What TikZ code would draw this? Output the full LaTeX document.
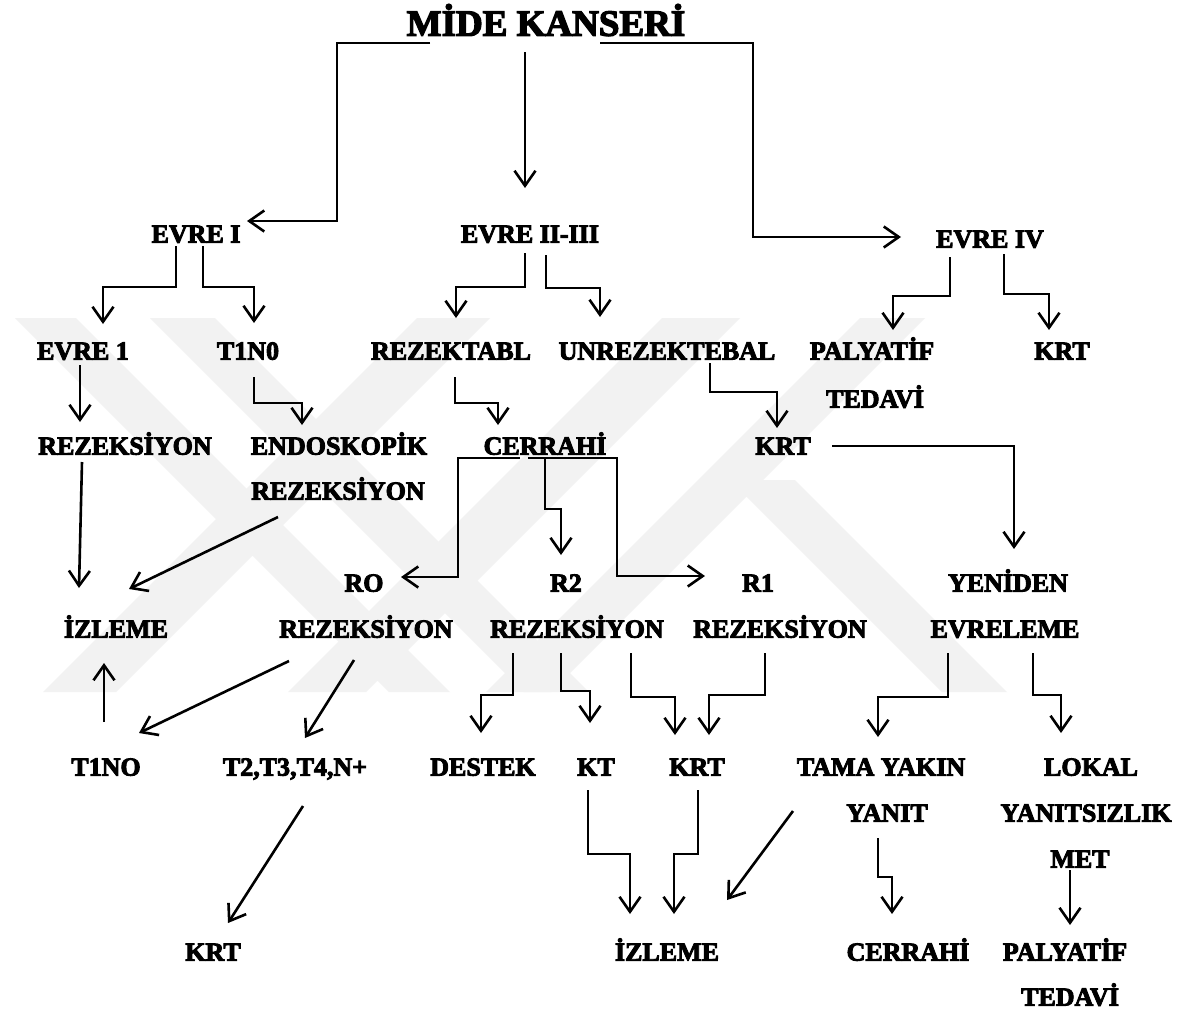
\documentclass[tikz,border=0pt]{standalone}
\usepackage{fontspec}
\setmainfont{Liberation Serif}[BoldFeatures={FakeBold=3.5}]
\usetikzlibrary{arrows.meta,calc}
\tikzset{
  lbl/.style={font=\fontsize{26}{26}\selectfont\bfseries, inner sep=0pt, text height=17.2pt, text depth=0pt, anchor=center},
  ttl/.style={font=\fontsize{37}{37}\selectfont\bfseries, inner sep=0pt, text height=24.5pt, text depth=0pt, anchor=center},
  arr/.style={line width=2.6pt, -{Straight Barb[length=15pt,width=21pt,line width=2.6pt]}},
  wm/.style={fill=black!5, draw=none}
}
\begin{document}
\begin{tikzpicture}[x=1pt,y=-1pt]
\useasboundingbox[fill=white] (0,0) rectangle (1188,1013);
% watermark
\begin{scope}
\clip (0,318) rectangle (1188,692);
\fill[wm] (15,318) -- (76,318) -- (450,692) -- (389,692) -- cycle;
\fill[wm] (150,318) -- (215,318) -- (589,692) -- (524,692) -- cycle;
\fill[wm] (417,318) -- (490,318) -- (116,692) -- (43,692) -- cycle;
\fill[wm] (662,318) -- (740,318) -- (366,692) -- (288,692) -- cycle;
\fill[wm] (860,318) -- (925,318) -- (551,692) -- (486,692) -- cycle;
\fill[wm] (730,480) -- (795,480) -- (1007,692) -- (942,692) -- cycle;
\end{scope}
% nodes
\node[ttl] (t) at (546,23.5) {MİDE KANSERİ};
\node[lbl] (eI) at (196,234) {EVRE I};
\node[lbl] (eII) at (530,234) {EVRE II-III};
\node[lbl] (eIV) at (990,239) {EVRE IV};
\node[lbl] (e1) at (83,351) {EVRE 1};
\node[lbl] (t1n0) at (248,351) {T1N0};
\node[lbl] (rezt) at (451,351) {REZEKTABL};
\node[lbl] (unrez) at (667,351) {UNREZEKTEBAL};
\node[lbl] (paly) at (872,351) {PALYATİF};
\node[lbl] (tedavi1) at (875,399) {TEDAVİ};
\node[lbl] (krt1) at (1062,351) {KRT};
\node[lbl] (rez1) at (125,446) {REZEKSİYON};
\node[lbl] (endo) at (339,446) {ENDOSKOPİK};
\node[lbl] (endo2) at (338,491) {REZEKSİYON};
\node[lbl] (cerr) at (545,446) {CERRAHİ};
\node[lbl] (krt2) at (783,446) {KRT};
\node[lbl] (ro) at (364,583) {RO};
\node[lbl] (r2) at (566,583) {R2};
\node[lbl] (r1) at (758,583) {R1};
\node[lbl] (yen) at (1008,583) {YENİDEN};
\node[lbl] (izl1) at (116,629) {İZLEME};
\node[lbl] (ror) at (366,629) {REZEKSİYON};
\node[lbl] (r2r) at (577,629) {REZEKSİYON};
\node[lbl] (r1r) at (780,629) {REZEKSİYON};
\node[lbl] (evrl) at (1005,629) {EVRELEME};
\node[lbl] (t1no) at (106,767) {T1NO};
\node[lbl] (t2) at (295,767) {T2,T3,T4,N+};
\node[lbl] (destek) at (483,767) {DESTEK};
\node[lbl] (kt) at (596,767) {KT};
\node[lbl] (krt3) at (697,767) {KRT};
\node[lbl] (tama) at (881,767) {TAMA YAKIN};
\node[lbl] (lokal) at (1091,767) {LOKAL};
\node[lbl] (yanit) at (887,813) {YANIT};
\node[lbl] (yanitsiz) at (1086,813) {YANITSIZLIK};
\node[lbl] (met) at (1080,859) {MET};
\node[lbl] (krt4) at (213,952) {KRT};
\node[lbl] (izl2) at (667,952) {İZLEME};
\node[lbl] (cerr2) at (908,952) {CERRAHİ};
\node[lbl] (paly2) at (1065,952) {PALYATİF};
\node[lbl] (tedavi2) at (1070,997) {TEDAVİ};
% connectors from title
\draw[arr] ($(t)+(-116,19.5)$) -- ++(-93,0) |- ($(eI)+(51,-13)$);
\draw[arr] ($(t)+(-21,28.5)$) -- ($(eII)+(-5,-46)$);
\draw[arr] ($(t)+(54,19.5)$) -- ++(153,0) |- ($(eIV)+(-89,-2)$);
% from EVRE I / II-III / IV
\draw[arr] ($(eI)+(-20,12)$) -- ++(0,41) -| ($(e1)+(20,-27)$);
\draw[arr] ($(eI)+(7,12)$) -- ++(0,41) -| ($(t1n0)+(6,-28)$);
\draw[arr] ($(eII)+(-5,19)$) -- ++(0,34) -| ($(rezt)+(5,-33)$);
\draw[arr] ($(eII)+(16,21)$) -- ++(0,33) -| ($(unrez)+(-67,-34)$);
\draw[arr] ($(eIV)+(-40,18)$) -- ++(0,39) -| ($(paly)+(21,-21)$);
\draw[arr] ($(eIV)+(14,15)$) -- ++(0,40) -| ($(krt1)+(-13,-21)$);
% row 3 -> row 4
\draw[arr] ($(e1)+(-3,14)$) -- ($(rez1)+(-45,-24)$);
\draw[arr] ($(t1n0)+(6,26)$) -- ++(0,26) -| ($(endo)+(-37,-21)$);
\draw[arr] ($(rezt)+(4,26)$) -- ++(0,26) -| ($(cerr)+(-47,-21)$);
\draw[arr] ($(unrez)+(43,12)$) -- ++(0,29) -| ($(krt2)+(-6,-18)$);
\draw[arr] ($(krt2)+(49,0)$) -| ($(yen)+(6,-34)$);
% row 4 -> row 5
\draw[arr] ($(rez1)+(-43,16)$) -- ($(izl1)+(-37,-41)$);
\draw[arr] ($(endo2)+(-60,26)$) -- ($(izl1)+(13,-40)$);
\draw[arr] ($(cerr)+(-25,12)$) -- ++(-62,0) |- ($(ro)+(37,-6)$);
\draw[arr] ($(cerr)+(-17,12)$) -- ++(89,0) |- ($(r1)+(-53,-7)$);
\draw[arr] ($(cerr)+(0,12)$) -- ++(0,51) -| ($(r2)+(-5,-28)$);
% row 5 -> row 6
\draw[arr] ($(ror)+(-77,32)$) -- ($(t1no)+(33,-34)$);
\draw[arr] ($(ror)+(-12,31)$) -- ($(t2)+(10,-29)$);
\draw[arr] ($(t1no)+(-2,-45)$) -- ($(izl1)+(-12,34)$);
\draw[arr] ($(r2r)+(-64,24)$) -- ++(0,42) -| ($(destek)+(-2,-34)$);
\draw[arr] ($(r2r)+(-16,24)$) -- ++(0,38) -| ($(kt)+(-6,-44)$);
\draw[arr] ($(r2r)+(54,24)$) -- ++(0,44) -| ($(krt3)+(-22,-32)$);
\draw[arr] ($(r1r)+(-15,24)$) -- ++(0,42) -| ($(krt3)+(12,-32)$);
\draw[arr] ($(evrl)+(-57,24)$) -- ++(0,44) -| ($(tama)+(-3,-30)$);
\draw[arr] ($(evrl)+(28,24)$) -- ++(0,42) -| ($(lokal)+(-30,-34)$);
% row 6 -> row 7
\draw[arr] ($(t2)+(8,39)$) -- ($(krt4)+(15,-29)$);
\draw[arr] ($(kt)+(-8,23)$) -- ++(0,64) -| ($(izl2)+(-37,-38)$);
\draw[arr] ($(krt3)+(1,23)$) -- ++(0,64) -| ($(izl2)+(7,-38)$);
\draw[arr] ($(tama)+(-88,44)$) -- ($(izl2)+(60,-52)$);
\draw[arr] ($(yanit)+(-9,25)$) -- ++(0,39) -| ($(cerr2)+(-16,-38)$);
\draw[arr] ($(met)+(-10,11)$) -- ($(paly2)+(5,-27)$);
\end{tikzpicture}
\end{document}
